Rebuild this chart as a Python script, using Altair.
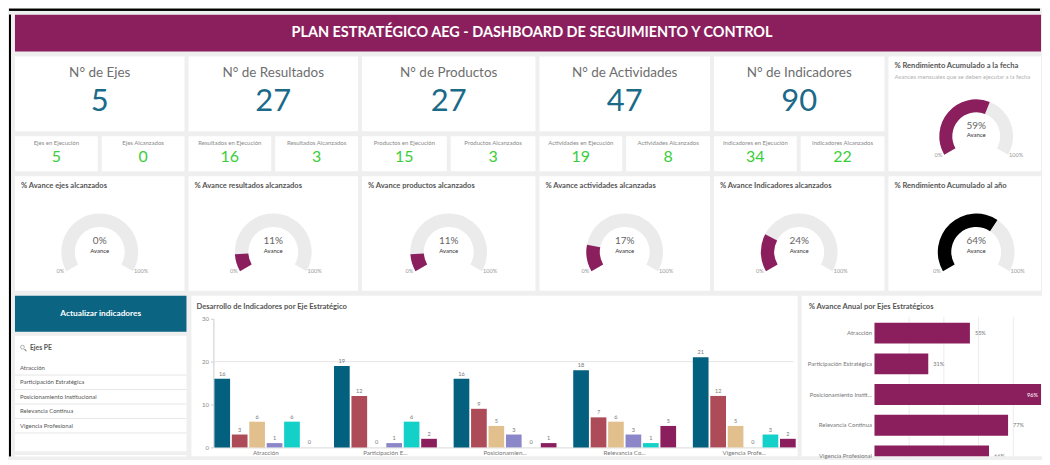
import altair as alt
import pandas as pd

# ================= DATA =================
dashboard_title = "PLAN ESTRATÉGICO AEG - DASHBOARD DE SEGUIMIENTO Y CONTROL"

kpi_names = ["N° de Ejes", "N° de Resultados", "N° de Productos", "N° de Actividades", "N° de Indicadores"]
kpi_totals = [5, 27, 27, 47, 90]
exec_labels = ["Ejes en Ejecución", "Resultados en Ejecución", "Productos en Ejecución",
               "Actividades en Ejecución", "Indicadores en Ejecución"]
exec_values = [5, 16, 15, 19, 34]
reached_labels = ["Ejes Alcanzados", "Resultados Alcanzados", "Productos Alcanzados",
                  "Actividades Alcanzados", "Indicadores Alcanzados"]
reached_values = [0, 3, 3, 8, 22]

gauge_titles = ["% Avance ejes alcanzados", "% Avance resultados alcanzados", "% Avance productos alcanzados",
                "% Avance actividades alcanzadas", "% Avance Indicadores alcanzados"]
gauge_values = [0, 11, 11, 17, 24]
year_title = "% Rendimiento Acumulado al año"
year_value = 64
date_title = "% Rendimiento Acumulado a la fecha"
date_subtitle = "Avances mensuales que se deben ejecutar a la fecha"
date_value = 59
gauge_caption = "Avance"
gauge_min_label = "0%"
gauge_max_label = "100%"
gauge_min = 0
gauge_max = 100

button_label = "Actualizar indicadores"
filter_title = "Ejes PE"
ejes_list = ["Atracción", "Participación Estratégica", "Posicionamiento Institucional",
             "Relevancia Continua", "Vigencia Profesional"]

bars_title = "Desarrollo de Indicadores por Eje Estratégico"
bars_categories = ["Atracción", "Participación E...", "Posicionamien...", "Relevancia Co...", "Vigencia Profe..."]
bars_series = ["Serie 1", "Serie 2", "Serie 3", "Serie 4", "Serie 5", "Serie 6"]
serie_1 = [16, 19, 16, 18, 21]
serie_2 = [3, 12, 9, 7, 12]
serie_3 = [6, 0, 5, 6, 5]
serie_4 = [1, 1, 3, 3, 0]
serie_5 = [6, 6, 0, 1, 3]
serie_6 = [0, 2, 1, 5, 2]
bars_y_ticks = [0, 10, 20, 30]
bars_y_grid = [20]

annual_title = "% Avance Anual por Ejes Estratégicos"
annual_categories = ["Atracción", "Participación Estratégica", "Posicionamiento Instit...",
                     "Relevancia Continua", "Vigencia Profesional"]
annual_values = [55, 31, 96, 77, 66]
annual_grid = [20, 40, 60, 80]

# ================= STYLE =================
FONT = "Lato"
PAGE_BG = "#efefef"
PURPLE = "#8b1f5d"
BTN_TEAL = "#0b6482"
NUM_COLOR = "#1b6a89"
GREEN = "#3acd3a"
TITLE_GREY = "#555555"
ARC_BG = "#ebebeb"
SERIES_COLORS = ["#04607f", "#ad4b58", "#e2c08e", "#8c87c9", "#13d0c8", "#8b1f5d"]
TH0 = 4.18879   # 240 deg
TH1 = 8.37758   # 480 deg

COL_W = [170, 170, 174, 171, 171]
COL6_W = 153
ANN_W = 241
HEADER_W = 1029
TOTAL_W = 1034
ROW4_H = 161
BAR_Y0 = 152    # pixel of value 0 in the bar panel


def view(fill="white"):
    return alt.ViewBackground(fill=fill, strokeWidth=0)


def txt(df, field, x, y, size, color, weight="normal", align="center"):
    return alt.Chart(df).mark_text(
        font=FONT, fontSize=size, color=color, fontWeight=weight, align=align, baseline="middle"
    ).encode(text=alt.Text(f"{field}:N"), x=alt.value(x), y=alt.value(y))


def kpi_card(name, total, w):
    df = pd.DataFrame({"name": [name], "total": [str(total)]})
    return alt.layer(
        txt(df, "name", w / 2, 17, 13.5, "#6e6e6e"),
        txt(df, "total", w / 2, 46, 31, NUM_COLOR),
    ).properties(width=w, height=75, view=view())


def small_card(label, value, w):
    df = pd.DataFrame({"label": [label], "value": [str(value)]})
    return alt.layer(
        txt(df, "label", w / 2, 7, 6.0, "#8a8a8a"),
        txt(df, "value", w / 2, 21, 16, GREEN),
    ).properties(width=w, height=35, view=view())


def gauge_layers(value, cx, cy, R, r, color, val_y, cap_y):
    scale = alt.Scale(domain=[gauge_min, gauge_max], range=[TH0, TH1])
    bg_df = pd.DataFrame({"a": [gauge_min], "b": [gauge_max]})
    val_df = pd.DataFrame({"a": [gauge_min], "b": [value]})
    bg = alt.Chart(bg_df).mark_arc(innerRadius=r, outerRadius=R, color=ARC_BG).encode(
        theta=alt.Theta("a:Q", scale=scale, stack=False), theta2=alt.Theta2("b"),
        x=alt.value(cx), y=alt.value(cy))
    fg = alt.Chart(val_df).mark_arc(innerRadius=r, outerRadius=R, color=color).encode(
        theta=alt.Theta("a:Q", scale=scale, stack=False), theta2=alt.Theta2("b"),
        x=alt.value(cx), y=alt.value(cy))
    lab = pd.DataFrame({"pct": [f"{value}%"], "cap": [gauge_caption],
                        "lo": [gauge_min_label], "hi": [gauge_max_label]})
    return [bg, fg,
            txt(lab, "pct", cx, val_y, 10, "#666666"),
            txt(lab, "cap", cx, cap_y, 6.0, "#333333"),
            txt(lab, "lo", cx - R - 1, cy + R * 0.5, 5.6, "#999999"),
            txt(lab, "hi", cx + R + 3, cy + R * 0.5, 5.6, "#999999")]


def gauge_card(title, value, w, color, cx=None):
    cx = w / 2 if cx is None else cx
    tdf = pd.DataFrame({"t": [title]})
    layers = [txt(tdf, "t", 6, 10, 7.6, TITLE_GREY, "bold", "left")]
    layers += gauge_layers(value, cx, 76, 38.5, 25, color, 65, 75)
    return alt.layer(*layers).properties(width=w, height=115, view=view())


def date_card(w):
    tdf = pd.DataFrame({"t": [date_title], "s": [date_subtitle]})
    layers = [txt(tdf, "t", 6, 10, 7.6, TITLE_GREY, "bold", "left"),
              txt(tdf, "s", 6, 20.5, 6.0, "#b0b0b0", "normal", "left")]
    layers += gauge_layers(date_value, 88, 80, 37, 24, PURPLE, 70, 79)
    return alt.layer(*layers).properties(width=w, height=115, view=view())


# ---------- rows 1-3 ----------
cols = []
for i, w in enumerate(COL_W):
    w1 = (w - 4) // 2
    w2 = w - 4 - w1
    cols.append(alt.vconcat(
        kpi_card(kpi_names[i], kpi_totals[i], w),
        alt.hconcat(small_card(exec_labels[i], exec_values[i], w1),
                    small_card(reached_labels[i], reached_values[i], w2), spacing=4),
        gauge_card(gauge_titles[i], gauge_values[i], w, PURPLE),
        spacing=5))
col6 = alt.vconcat(date_card(COL6_W),
                   gauge_card(year_title, year_value, COL6_W, "#000000", cx=88),
                   spacing=5)
rows13 = alt.hconcat(*cols, col6, spacing=4)

# ---------- left column ----------
btn_df = pd.DataFrame({"t": [button_label]})
button = txt(btn_df, "t", 86, 18, 8.3, "white", "bold").properties(width=172, height=36, view=view(BTN_TEAL))

list_df = pd.DataFrame({"eje": ejes_list})
list_scale = alt.Scale(range=[25, 97.5], paddingInner=0, paddingOuter=0)
items = alt.Chart(list_df).mark_text(font=FONT, fontSize=6.0, color="#555555", align="left",
                                     baseline="middle").encode(
    y=alt.Y("eje:N", sort=ejes_list, scale=list_scale, axis=None), x=alt.value(5), text="eje:N")
seps = alt.Chart(list_df).mark_rule(color="#e6e6e6", strokeWidth=1).encode(
    y=alt.Y("eje:N", sort=ejes_list, scale=list_scale, axis=None, bandPosition=1),
    x=alt.value(0), x2=alt.value(172))
ftitle_df = pd.DataFrame({"t": [filter_title]})
lens = alt.Chart(ftitle_df).mark_point(shape="circle", size=14, filled=False, color="#8a8a8a",
                                       strokeWidth=1).encode(x=alt.value(7.5), y=alt.value(11.5))
handle = alt.Chart(ftitle_df).mark_rule(color="#8a8a8a", strokeWidth=1.2).encode(
    x=alt.value(9.5), x2=alt.value(11.5), y=alt.value(13.5), y2=alt.value(15.5))
ftitle = txt(ftitle_df, "t", 15, 12, 6.8, TITLE_GREY, "bold", "left")
filter_card = alt.layer(seps, items, lens, handle, ftitle).properties(width=172, height=116, view=view())
blank = alt.Chart(pd.DataFrame({"t": [""]})).mark_rule(color="white", strokeWidth=1).encode(
    x=alt.value(0), x2=alt.value(172), y=alt.value(0.5)).properties(width=172, height=1, view=view())
left_col = alt.vconcat(button, filter_card, blank, spacing=4)

# ---------- grouped bar chart ----------
series_vals = [serie_1, serie_2, serie_3, serie_4, serie_5, serie_6]
bars_df = pd.DataFrame([{"eje": c, "serie": s, "valor": v}
                        for s, vals in zip(bars_series, series_vals)
                        for c, v in zip(bars_categories, vals)])
x_enc = alt.X("eje:N", sort=bars_categories,
              scale=alt.Scale(range=[23, 606], paddingInner=0.14, paddingOuter=0),
              axis=alt.Axis(title=None, offset=-(ROW4_H - BAR_Y0), labelAngle=0, labelFont=FONT,
                            labelFontSize=6.2, labelColor="#777777", ticks=False, domainColor="#d9d9d9",
                            labelPadding=2, minExtent=0))
xo_enc = alt.XOffset("serie:N", sort=bars_series, scale=alt.Scale(paddingInner=0.1, paddingOuter=0))
y_enc = alt.Y("valor:Q", scale=alt.Scale(domain=[0, 30], range=[BAR_Y0, 23], nice=False),
              axis=alt.Axis(title=None, offset=-22, values=bars_y_ticks, grid=False, tickSize=3,
                            tickColor="#cccccc", domainColor="#cccccc", labelFont=FONT,
                            labelFontSize=6.0, labelColor="#888888", labelPadding=2, minExtent=0))
grid_b = alt.Chart(pd.DataFrame({"valor": bars_y_grid})).mark_rule(color="#e6e6e6").encode(
    y=y_enc, x=alt.value(22), x2=alt.value(604))
bars = alt.Chart(bars_df).mark_bar().encode(
    x=x_enc, xOffset=xo_enc, y=y_enc,
    color=alt.Color("serie:N", sort=bars_series,
                    scale=alt.Scale(domain=bars_series, range=SERIES_COLORS), legend=None))
bar_labels = alt.Chart(bars_df).mark_text(font=FONT, fontSize=5.6, color="#777777", dy=-5).encode(
    x=x_enc, xOffset=xo_enc, y=y_enc, text="valor:Q")
btitle = txt(pd.DataFrame({"t": [bars_title]}), "t", 5, 11, 7.6, TITLE_GREY, "bold", "left")
bar_card = alt.layer(grid_b, bars, bar_labels, btitle).properties(width=608, height=ROW4_H, view=view())

# ---------- annual horizontal bars ----------
ann_df = pd.DataFrame({"eje": annual_categories, "pct": annual_values,
                       "lab": [f"{v}%" for v in annual_values]})
y_a = alt.Y("eje:N", sort=annual_categories,
            scale=alt.Scale(range=[27, 171], paddingInner=0.32, paddingOuter=0),
            axis=alt.Axis(title=None, offset=-73, ticks=False, domain=False, labelFont=FONT,
                          labelFontSize=6.0, labelColor="#777777", labelPadding=3, labelLimit=70,
                          minExtent=0))
x_a = alt.X("pct:Q", scale=alt.Scale(domain=[0, 100], range=[73, 247], nice=False), axis=None)
grid_a = alt.Chart(pd.DataFrame({"pct": annual_grid})).mark_rule(color="#ececec").encode(
    x=x_a, y=alt.value(21), y2=alt.value(ROW4_H))
abars = alt.Chart(ann_df).mark_bar(color=PURPLE, clip=True).encode(x=x_a, y=y_a)
alab_out = alt.Chart(ann_df).transform_filter("datum.pct < 90").mark_text(
    font=FONT, fontSize=5.6, color="#777777", align="left", dx=5, clip=True).encode(
    x=x_a, y=y_a, text="lab:N")
alab_in = alt.Chart(ann_df).transform_filter("datum.pct >= 90").mark_text(
    font=FONT, fontSize=5.6, color="white", align="right", dx=-3, clip=True).encode(
    x=x_a, y=y_a, text="lab:N")
atitle = txt(pd.DataFrame({"t": [annual_title]}), "t", 7, 11, 7.6, TITLE_GREY, "bold", "left")
annual_card = alt.layer(grid_a, abars, alab_out, alab_in, atitle).properties(
    width=ANN_W, height=ROW4_H, view=view())

row4 = alt.hconcat(left_col, bar_card, annual_card, spacing=4)

# ---------- header ----------
header = txt(pd.DataFrame({"t": [dashboard_title]}), "t", 518.5, 18.5, 14.5, "white", "bold").properties(
    width=HEADER_W, height=37, view=view(PURPLE))

content = alt.vconcat(header, rows13, row4, spacing=5)
content_h = 37 + 5 + 235 + 5 + ROW4_H

# ---------- frame ----------
top_border = alt.Chart(pd.DataFrame({"t": [""]})).mark_rule(color="black", strokeWidth=2).encode(
    x=alt.value(0), x2=alt.value(TOTAL_W), y=alt.value(1)).properties(
    width=TOTAL_W, height=2, view=view("black"))
left_border = alt.Chart(pd.DataFrame({"t": [""]})).mark_rule(color="black", strokeWidth=2).encode(
    y=alt.value(0), y2=alt.value(content_h), x=alt.value(1)).properties(
    width=2, height=content_h, view=view("black"))

chart = alt.vconcat(top_border, alt.hconcat(left_border, content, spacing=3), spacing=3).properties(
    padding=0, background=PAGE_BG
).configure_view(strokeWidth=0).configure_axis(labelFont=FONT)

chart.save("out.html", embed_options={"renderer": "svg", "actions": False})
